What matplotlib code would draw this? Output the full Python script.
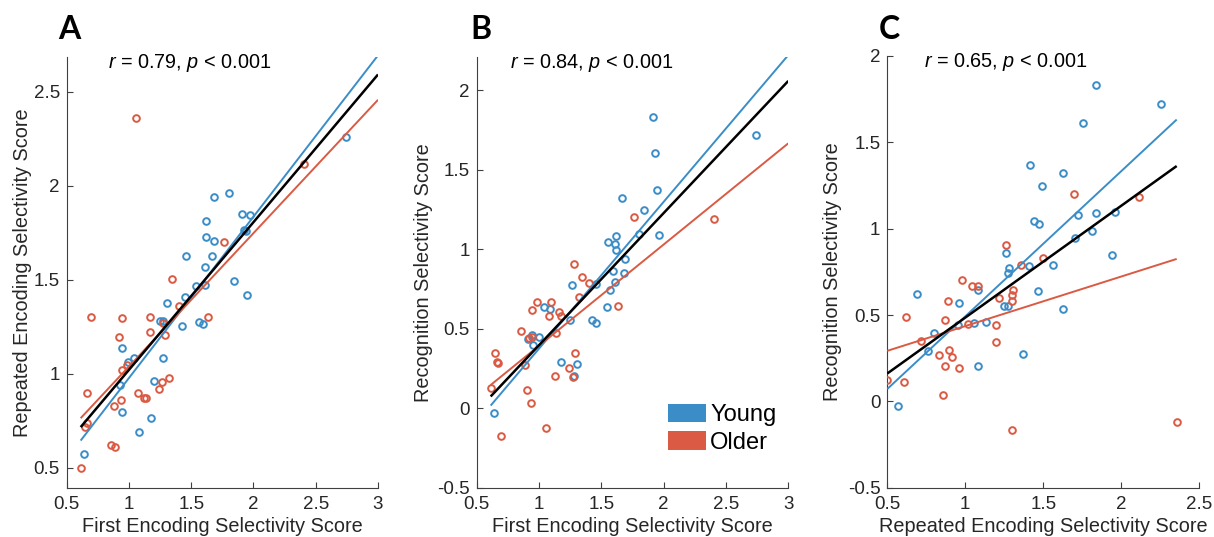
import numpy as np
import matplotlib
matplotlib.use("Agg")
import matplotlib.pyplot as plt
from matplotlib.patches import Patch

plt.rcParams['font.family'] = ['Liberation Sans', 'DejaVu Sans']
plt.rcParams['mathtext.fontset'] = 'custom'
plt.rcParams['mathtext.rm'] = 'Liberation Sans'
plt.rcParams['mathtext.it'] = 'Liberation Sans:italic'

# ---------------- data ----------------
# Panel A: First Encoding (x) vs Repeated Encoding (y)
a_young_x = [0.639, 0.942, 1.081, 1.177, 1.201, 0.928, 0.942, 0.995, 1.043, 1.276, 1.303, 1.25, 1.27,
             1.429, 1.563, 1.592, 1.453, 1.539, 1.611, 1.846, 1.948, 1.608, 1.456, 1.667, 1.616, 1.619,
             1.686, 1.683, 1.806, 1.911, 1.972, 1.924, 1.938, 2.743]
a_young_y = [0.571, 0.798, 0.691, 0.763, 0.963, 0.94, 1.135, 1.06, 1.085, 1.082, 1.374, 1.28, 1.28,
             1.255, 1.277, 1.263, 1.406, 1.467, 1.472, 1.495, 1.42, 1.569, 1.626, 1.626, 1.812, 1.729,
             1.706, 1.94, 1.963, 1.849, 1.842, 1.764, 1.759, 2.26]
a_older_x = [1.057, 2.409, 1.763, 1.346, 1.40, 1.637, 0.695, 0.942, 1.169, 1.276, 1.169, 0.92, 1.29,
             0.987, 0.942, 0.66, 1.265, 1.322, 1.244, 1.075, 1.123, 1.137, 0.934, 0.88, 0.66, 0.647,
             0.853, 0.888, 0.612]
a_older_y = [2.358, 2.115, 1.699, 1.504, 1.36, 1.303, 1.303, 1.298, 1.30, 1.268, 1.223, 1.194, 1.206,
             1.046, 1.02, 0.896, 0.957, 0.98, 0.917, 0.896, 0.872, 0.87, 0.86, 0.83, 0.74, 0.718,
             0.621, 0.612, 0.497]

# Panel B: First Encoding (x) vs Recognition (y)
b_young_x = [0.639, 0.914, 0.944, 0.997, 0.949, 1.043, 1.088, 1.265, 1.249, 1.425, 1.458, 1.177, 1.305,
             1.283, 1.543, 1.57, 1.61, 1.458, 1.591, 1.682, 1.69, 1.554, 1.62, 1.61, 1.615, 1.805,
             1.966, 1.845, 1.666, 1.945, 1.934, 1.913, 2.744]
b_young_y = [-0.03, 0.435, 0.462, 0.45, 0.4, 0.639, 0.624, 0.776, 0.555, 0.555, 0.534, 0.288, 0.275,
             0.204, 0.639, 0.744, 0.792, 0.782, 0.861, 0.853, 0.94, 1.047, 1.08, 1.034, 0.992, 1.097,
             1.089, 1.248, 1.324, 1.37, 1.607, 1.83, 1.72]
b_older_x = [1.765, 2.407, 1.283, 1.348, 1.401, 1.318, 1.637, 0.984, 1.099, 0.941, 1.078, 1.163, 1.174,
             1.139, 0.856, 0.941, 0.92, 0.888, 0.649, 0.665, 0.673, 1.289, 1.241, 1.126, 1.27, 0.612,
             0.901, 0.936, 1.059, 0.693]
b_older_y = [1.202, 1.187, 0.904, 0.826, 0.788, 0.702, 0.643, 0.666, 0.666, 0.62, 0.582, 0.607, 0.582,
             0.47, 0.488, 0.446, 0.442, 0.27, 0.347, 0.288, 0.284, 0.345, 0.253, 0.2, 0.198, 0.124,
             0.114, 0.032, -0.122, -0.174]

# Panel C: Repeated Encoding (x) vs Recognition (y)
c_young_x = [0.571, 0.692, 0.759, 0.799, 0.955, 0.96, 1.058, 1.079, 1.079, 1.133, 1.248, 1.276, 1.259,
             1.28, 1.272, 1.372, 1.408, 1.466, 1.562, 1.624, 1.415, 1.442, 1.474, 1.49, 1.626, 1.703,
             1.724, 1.754, 1.81, 1.84, 1.84, 1.94, 1.96, 2.252]
c_young_y = [-0.028, 0.624, 0.289, 0.395, 0.44, 0.571, 0.453, 0.643, 0.206, 0.461, 0.554, 0.554, 0.861,
             0.774, 0.743, 0.275, 0.784, 0.637, 0.788, 0.534, 1.37, 1.045, 1.027, 1.246, 1.321, 0.944,
             1.078, 1.61, 0.989, 1.83, 1.091, 0.847, 1.097, 1.72]
c_older_x = [0.5, 0.607, 0.622, 0.714, 0.83, 0.859, 0.87, 0.872, 0.891, 0.896, 0.915, 0.958, 0.977,
             1.015, 1.043, 1.083, 1.195, 1.199, 1.218, 1.261, 1.297, 1.297, 1.304, 1.299, 1.355, 1.496,
             1.699, 2.113, 2.355]
c_older_y = [0.122, 0.111, 0.486, 0.349, 0.27, 0.034, 0.202, 0.474, 0.583, 0.295, 0.254, 0.196, 0.705,
             0.45, 0.668, 0.668, 0.444, 0.345, 0.598, 0.904, 0.618, 0.581, 0.643, -0.166, 0.788, 0.832,
             1.201, 1.184, -0.121]

panel_letters = ["A", "B", "C"]
stats_text = [r"$r$ = 0.79, $p$ < 0.001", r"$r$ = 0.84, $p$ < 0.001", r"$r$ = 0.65, $p$ < 0.001"]
x_labels = ["First Encoding Selectivity Score", "First Encoding Selectivity Score",
            "Repeated Encoding Selectivity Score"]
y_labels = ["Repeated Encoding Selectivity Score", "Recognition Selectivity Score",
            "Recognition Selectivity Score"]
x_ticks = [[0.5, 1, 1.5, 2, 2.5, 3], [0.5, 1, 1.5, 2, 2.5, 3], [0.5, 1, 1.5, 2, 2.5]]
y_ticks = [[0.5, 1, 1.5, 2, 2.5], [-0.5, 0, 0.5, 1, 1.5, 2], [-0.5, 0, 0.5, 1, 1.5, 2]]
x_limits = [(0.5, 3.0), (0.5, 3.0), (0.5, 2.5)]
y_limits = [(0.394, 2.686), (-0.5, 2.21), (-0.5, 2.0)]
fit_line_end = [3.0, 3.0, None]   # None -> end at largest x value
legend_labels = ["Young", "Older"]

# ---------------- style ----------------
BLUE = '#3b8dc8'
RED = '#da5a43'
AX_COL = '#404040'
TXT_COL = '#262626'

fig = plt.figure(figsize=(12.14, 5.37), dpi=100)
W, H = 1214, 537
axes_px = [(66.7, 56.7, 378.0, 487.7), (476.7, 56.7, 788.3, 487.7), (887.3, 56.0, 1199.3, 487.7)]
letter_px = [(58.5, 39.3), (470.5, 39.3), (879.0, 39.3)]
stats_frac = [0.134, 0.107, 0.118]
ylabel_x = [-0.112, -0.14, -0.145]

data = [(a_young_x, a_young_y, a_older_x, a_older_y),
        (b_young_x, b_young_y, b_older_x, b_older_y),
        (c_young_x, c_young_y, c_older_x, c_older_y)]

for i in range(3):
    l, t, r, b = axes_px[i]
    ax = fig.add_axes([l / W, 1 - b / H, (r - l) / W, (b - t) / H])
    yx, yy, ox, oy = [np.asarray(v, float) for v in data[i]]
    allx = np.concatenate([yx, ox])
    ally = np.concatenate([yy, oy])

    ax.plot(yx, yy, 'o', mfc='none', mec=BLUE, ms=4.8, mew=1.4, zorder=3)
    ax.plot(ox, oy, 'o', mfc='none', mec=RED, ms=4.8, mew=1.4, zorder=3)

    x0 = allx.min()
    x1 = fit_line_end[i] if fit_line_end[i] is not None else allx.max()
    xs = np.array([x0, x1])
    for (fx, fy, col, lw, z) in [(yx, yy, BLUE, 1.4, 4), (ox, oy, RED, 1.4, 4), (allx, ally, 'black', 1.8, 5)]:
        k, c0 = np.polyfit(fx, fy, 1)
        ax.plot(xs, k * xs + c0, color=col, lw=lw, zorder=z, solid_capstyle='butt')

    ax.set_xlim(*x_limits[i])
    ax.set_ylim(*y_limits[i])
    ax.set_xticks(x_ticks[i])
    ax.set_xticklabels([f"{v:g}" for v in x_ticks[i]])
    ax.set_yticks(y_ticks[i])
    ax.set_yticklabels([f"{v:g}" for v in y_ticks[i]])
    for s in ['top', 'right']:
        ax.spines[s].set_visible(False)
    for s in ['left', 'bottom']:
        ax.spines[s].set_color(AX_COL)
        ax.spines[s].set_linewidth(0.8)
    ax.tick_params(direction='in', length=4, width=0.8, color=AX_COL, labelsize=13.5,
                   labelcolor=TXT_COL)
    ax.tick_params(axis='x', pad=6.3)
    ax.tick_params(axis='y', pad=5)
    ax.set_xlabel(x_labels[i], fontsize=14.3, color=TXT_COL, labelpad=2.5)
    ax.set_ylabel(y_labels[i], fontsize=14.3, color=TXT_COL)
    ax.yaxis.set_label_coords(ylabel_x[i], 0.5)

    ax.text(stats_frac[i], 0.985, stats_text[i], transform=ax.transAxes, fontsize=14.35,
            ha='left', va='center', color='black')

    fig.text(letter_px[i][0] / W, 1 - letter_px[i][1] / H, panel_letters[i],
             family=['Lato', 'DejaVu Sans'], fontweight='bold', fontsize=23,
             ha='left', va='baseline')

    if i == 1:
        handles = [Patch(facecolor=BLUE, edgecolor='none'), Patch(facecolor=RED, edgecolor='none')]
        ax.legend(handles, legend_labels, loc='upper left', bbox_to_anchor=(0.613, 0.195),
                  frameon=False, fontsize=17, handlelength=1.62, handleheight=0.85,
                  handletextpad=0.18, labelspacing=0.2, borderpad=0, borderaxespad=0)

fig.savefig('out.png', dpi=100)
